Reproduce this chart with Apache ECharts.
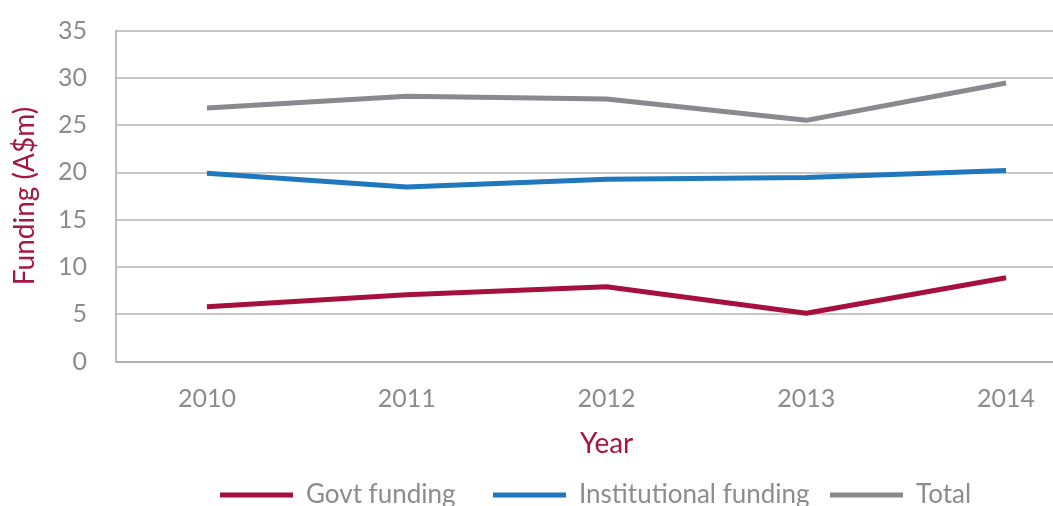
<!DOCTYPE html>
<html>
<head>
<meta charset="utf-8">
<script src="https://cdn.jsdelivr.net/npm/echarts@6/dist/echarts.min.js"></script>
<style>html,body{margin:0;padding:0;background:#fff;}#c{width:1053px;height:506px;}</style>
</head>
<body>
<div id="c"></div>
<script>
const years = [2010, 2011, 2012, 2013, 2014];
const govtFunding = [5.8, 7.05, 7.9, 5.1, 8.85];
const institutionalFunding = [19.9, 18.45, 19.27, 19.45, 20.2];
const totalFunding = [26.8, 28.05, 27.76, 25.5, 29.45];
const yTicks = [0, 5, 10, 15, 20, 25, 30, 35];
const seriesNames = ['Govt funding', 'Institutional funding', 'Total'];
const colors = ['#A6103E', '#1F77BD', '#8A8A8E'];

const FONT = 'Lato';
const pairs = arr => years.map((y, i) => [y, arr[i]]);
const legendLefts = [220, 493, 830];

const chart = echarts.init(document.getElementById('c'), null, {renderer: 'canvas'});
chart.setOption({
  animation: false,
  backgroundColor: '#fff',
  grid: {left: 116, right: 0, top: 30.5, bottom: 144.5, containLabel: false, outerBoundsMode: 'none'},
  xAxis: {
    type: 'value',
    min: 2009.545,
    max: 2014.235,
    axisLine: {show: true, lineStyle: {color: '#A8A8A8', width: 1.5}},
    axisTick: {show: false},
    splitLine: {show: false},
    axisLabel: {
      customValues: years,
      color: '#8C8C8E',
      fontFamily: FONT,
      fontSize: 25,
      margin: 25,
      formatter: v => String(v)
    }
  },
  yAxis: {
    type: 'value',
    min: yTicks[0],
    max: yTicks[yTicks.length - 1],
    interval: 5,
    name: 'Funding (A$m)',
    nameLocation: 'middle',
    nameGap: 77,
    nameRotate: 90,
    nameTextStyle: {color: '#A6173F', fontFamily: FONT, fontSize: 28},
    axisLine: {show: true, lineStyle: {color: '#A8A8A8', width: 1.5}},
    axisTick: {show: false},
    splitLine: {show: true, lineStyle: {color: '#B4B4B4', width: 1.5}},
    axisLabel: {color: '#8C8C8E', fontFamily: FONT, fontSize: 25, margin: 29}
  },
  legend: seriesNames.map((n, i) => ({
    top: 482,
    left: legendLefts[i],
    padding: 0,
    itemWidth: 73,
    itemHeight: 5,
    icon: 'rect',
    textStyle: {color: '#8C8C8E', fontFamily: FONT, fontSize: 26, padding: [0, 0, 0, 8]},
    data: [n]
  })),
  graphic: [{
    type: 'text',
    left: 580,
    top: 430,
    style: {text: 'Year', fill: '#A6173F', font: '28px Lato'}
  }],
  series: [
    {name: seriesNames[0], type: 'line', data: pairs(govtFunding), showSymbol: false, symbol: 'none', color: colors[0], lineStyle: {width: 5, color: colors[0]}},
    {name: seriesNames[1], type: 'line', data: pairs(institutionalFunding), showSymbol: false, symbol: 'none', color: colors[1], lineStyle: {width: 5, color: colors[1]}},
    {name: seriesNames[2], type: 'line', data: pairs(totalFunding), showSymbol: false, symbol: 'none', color: colors[2], lineStyle: {width: 5, color: colors[2]}}
  ]
});
</script>
</body>
</html>
